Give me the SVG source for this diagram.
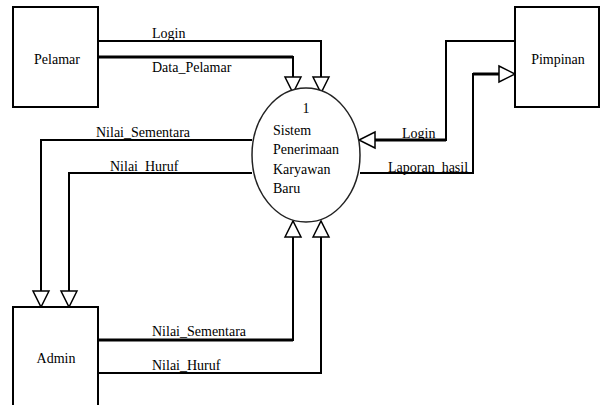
<svg xmlns="http://www.w3.org/2000/svg" width="603" height="405" viewBox="0 0 603 405" font-family="'Liberation Serif', 'DejaVu Serif', serif" font-size="14">
<style>
.box{fill:#fff;stroke:#000;stroke-width:2}
.proc{fill:#fff;stroke:#222;stroke-width:1.5}
.flow{fill:none;stroke:#000;stroke-width:2;marker-end:url(#arr)}
.thick{fill:none;stroke:#000;stroke-width:3}
text{fill:#000}
</style>
<defs>
<marker id="arr" markerUnits="userSpaceOnUse" markerWidth="20" markerHeight="20" refX="16" refY="8" orient="auto" overflow="visible">
<path d="M0,0 L16,8 L0,16 Z" fill="#fff" stroke="#000" stroke-width="1.5"/>
</marker>
</defs>
<rect width="603" height="405" fill="#fff"/>
<g id="connectors">
<path class="flow" d="M98,41 H321 V93"/>
<path class="flow" d="M98,57 H293 V93"/>
<path class="thick" d="M98,57 H293"/>
<path class="flow" d="M515,41 H446 V140 H359"/>
<path class="thick" d="M446,140 H375"/>
<path class="flow" d="M360,173 H473 V74 H515"/>
<path class="thick" d="M473,74 H499"/>
<path class="flow" d="M252,140 H41 V307"/>
<path class="flow" d="M252,173 H69 V307"/>
<path class="flow" d="M98,340 H293 V221"/>
<path class="thick" d="M98,340 H293"/>
<path class="flow" d="M98,373 H321 V221"/>
<text x="152" y="38">Login</text>
<text x="152" y="72">Data_Pelamar</text>
<text x="402" y="138">Login</text>
<text x="388" y="172">Laporan_hasil</text>
<text x="96" y="137">Nilai_Sementara</text>
<text x="110" y="171">Nilai_Huruf</text>
<text x="152" y="336">Nilai_Sementara</text>
<text x="152" y="370">Nilai_Huruf</text>
</g>
<g id="pelamar">
<rect class="box" x="13" y="7" width="85" height="100"/>
<text x="57" y="64" text-anchor="middle">Pelamar</text>
</g>
<g id="pimpinan">
<rect class="box" x="515" y="7" width="84" height="100"/>
<text x="558" y="64" text-anchor="middle">Pimpinan</text>
</g>
<g id="admin">
<rect class="box" x="13" y="307" width="85" height="110"/>
<text x="56" y="363" text-anchor="middle">Admin</text>
</g>
<g id="proses">
<ellipse class="proc" cx="306" cy="155" rx="54" ry="67"/>
<text x="306" y="113" text-anchor="middle">1</text>
<text x="273" y="135">Sistem</text>
<text x="273" y="154">Penerimaan</text>
<text x="273" y="174">Karyawan</text>
<text x="273" y="193">Baru</text>
</g>
</svg>
